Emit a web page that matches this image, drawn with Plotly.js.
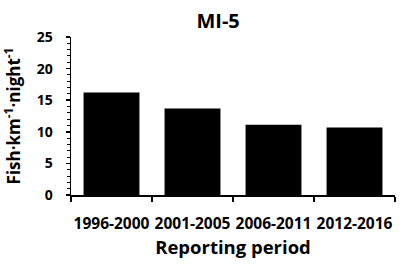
<!DOCTYPE html>
<html><head><meta charset="utf-8">
<script src="https://cdn.plot.ly/plotly-3.0.1.min.js"></script>
<style>html,body{margin:0;padding:0;background:#fff}#chart{width:401px;height:265px}</style>
</head><body><div id="chart"></div>
<script>
const categories = ["1996-2000", "2001-2005", "2006-2011", "2012-2016"];
const values = [16.2, 13.7, 11.1, 10.7];
const yTicks = [0, 5, 10, 15, 20, 25];

const F = "Open Sans, Liberation Sans, sans-serif";
Plotly.newPlot("chart", [{
  type: "bar", x: categories, y: values,
  marker: {color: "#000", line: {width: 0}},
  width: 0.69, hoverinfo: "none"
}], {
  width: 401, height: 265,
  margin: {l: 71, r: 6, t: 37, b: 70, pad: 0},
  paper_bgcolor: "#fff", plot_bgcolor: "#fff",
  showlegend: false, bargap: 0.31,
  title: {text: "MI-5", x: 0.544, xref: "container", xanchor: "center", y: 0.92, yref: "container", yanchor: "middle",
          font: {family: F, size: 20, weight: "bold", color: "#000"}},
  xaxis: {
    type: "category", tickson: "boundaries", ticks: "outside", ticklen: 5, tickwidth: 1.5, tickcolor: "#000",
    showline: true, linecolor: "#000", linewidth: 1.5, showgrid: false, zeroline: false,
    tickangle: 0, ticklabelstandoff: 14, tickfont: {family: F, size: 15.5, weight: "bold", color: "#000"},
    title: {text: "Reporting period", standoff: 0, font: {family: F, size: 18.5, weight: "bold", color: "#000"}}
  },
  yaxis: {
    range: [0, 25], tickvals: yTicks, ticks: "outside", ticklen: 4, tickwidth: 1.5, tickcolor: "#000",
    minor: {dtick: 1, ticks: "outside", ticklen: 3, tickwidth: 1, tickcolor: "#000", showgrid: false},
    showline: true, linecolor: "#000", linewidth: 1.5, showgrid: false, zeroline: false,
    ticklabelstandoff: 10, tickfont: {family: F, size: 14, weight: "bold", color: "#000"},
    title: {text: "Fish·km<sup>-1</sup>·night<sup>-1</sup>", standoff: 12, font: {family: F, size: 17, weight: "bold", color: "#000"}}
  }
}, {staticPlot: true});
</script></body></html>
